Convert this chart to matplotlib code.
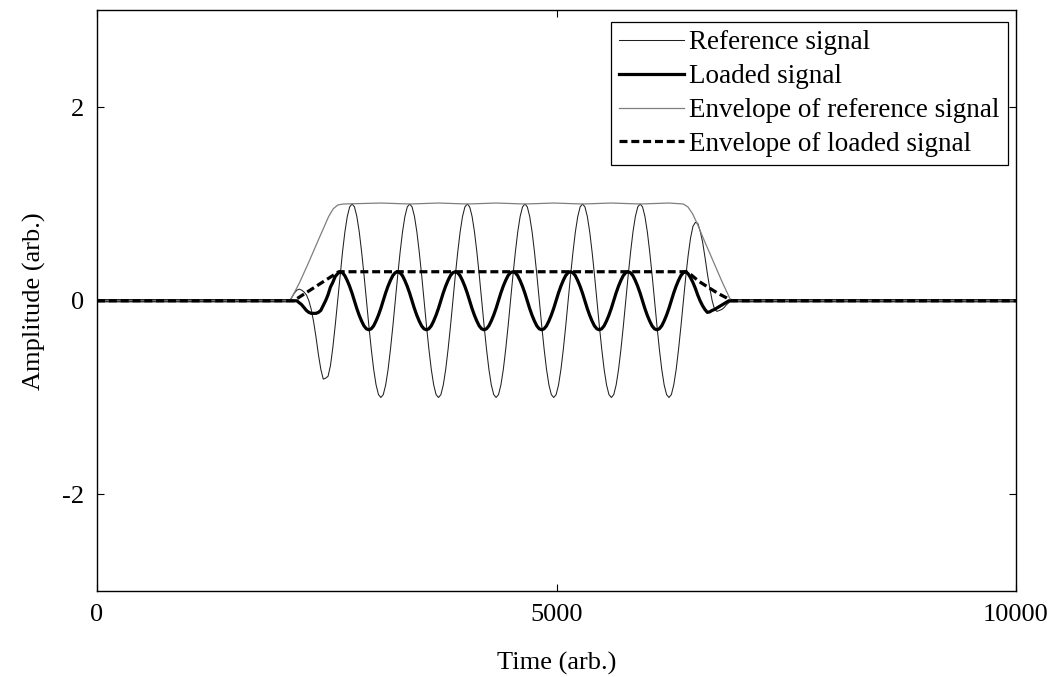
import numpy as np
import matplotlib
matplotlib.use("Agg")
import matplotlib.pyplot as plt

plt.rcParams['font.family'] = ['Liberation Serif', 'DejaVu Serif']
plt.rcParams['axes.unicode_minus'] = False

#sampling of the bursts (arb. time units)
dt = 26.125
ref_t0 = 2096
load_t0 = 2069
t_end = 10000

#reference signal, sampled every dt starting at ref_t0
ref_amp = [0.0, 0.04, 0.08, 0.11, 0.12, 0.11, 0.09, 0.06, 0.0, -0.09, -0.22, -0.38, -0.56,
           -0.71, -0.81, -0.80, -0.78, -0.67, -0.48, -0.25, 0.0, 0.26, 0.5, 0.71, 0.87, 0.97,
           1.0, 0.97, 0.87, 0.71, 0.5, 0.26, 0.0, -0.26, -0.5, -0.71, -0.87, -0.97,
           -1.0, -0.97, -0.87, -0.71, -0.5, -0.26, 0.0, 0.26, 0.5, 0.71, 0.87, 0.97,
           1.0, 0.97, 0.87, 0.71, 0.5, 0.26, 0.0, -0.26, -0.5, -0.71, -0.87, -0.97,
           -1.0, -0.97, -0.87, -0.71, -0.5, -0.26, 0.0, 0.26, 0.5, 0.71, 0.87, 0.97,
           1.0, 0.97, 0.87, 0.71, 0.5, 0.26, 0.0, -0.26, -0.5, -0.71, -0.87, -0.97,
           -1.0, -0.97, -0.87, -0.71, -0.5, -0.26, 0.0, 0.26, 0.5, 0.71, 0.87, 0.97,
           1.0, 0.97, 0.87, 0.71, 0.5, 0.26, 0.0, -0.26, -0.5, -0.71, -0.87, -0.97,
           -1.0, -0.97, -0.87, -0.71, -0.5, -0.26, 0.0, 0.26, 0.5, 0.71, 0.87, 0.97,
           1.0, 0.97, 0.87, 0.71, 0.5, 0.26, 0.0, -0.26, -0.5, -0.71, -0.87, -0.97,
           -1.0, -0.97, -0.87, -0.71, -0.5, -0.26, 0.0, 0.26, 0.5, 0.71, 0.87, 0.97,
           1.0, 0.97, 0.87, 0.71, 0.5, 0.26, 0.0, -0.26, -0.5, -0.71, -0.87, -0.97,
           -1.0, -0.97, -0.87, -0.71, -0.5, -0.26, 0.0, 0.25, 0.47, 0.65, 0.77, 0.81,
           0.80, 0.72, 0.61, 0.45, 0.28, 0.13, 0.0, -0.09, -0.11, -0.10, -0.09, -0.07,
           -0.04, -0.02, 0.0]

#loaded signal, sampled every dt starting at load_t0
load_amp = [0.0, 0.0, 0.0, 0.0, 0.0, -0.02, -0.04, -0.07, -0.10, -0.12, -0.13, -0.13,
            -0.13, -0.12, -0.10, -0.05, 0.0, 0.06, 0.14, 0.19, 0.25, 0.28,
            0.30, 0.29, 0.26, 0.21, 0.15, 0.08, 0.0, -0.08, -0.15, -0.21, -0.26, -0.29,
            -0.30, -0.29, -0.26, -0.21, -0.15, -0.08, 0.0, 0.08, 0.15, 0.21, 0.26, 0.29,
            0.30, 0.29, 0.26, 0.21, 0.15, 0.08, 0.0, -0.08, -0.15, -0.21, -0.26, -0.29,
            -0.30, -0.29, -0.26, -0.21, -0.15, -0.08, 0.0, 0.08, 0.15, 0.21, 0.26, 0.29,
            0.30, 0.29, 0.26, 0.21, 0.15, 0.08, 0.0, -0.08, -0.15, -0.21, -0.26, -0.29,
            -0.30, -0.29, -0.26, -0.21, -0.15, -0.08, 0.0, 0.08, 0.15, 0.21, 0.26, 0.29,
            0.30, 0.29, 0.26, 0.21, 0.15, 0.08, 0.0, -0.08, -0.15, -0.21, -0.26, -0.29,
            -0.30, -0.29, -0.26, -0.21, -0.15, -0.08, 0.0, 0.08, 0.15, 0.21, 0.26, 0.29,
            0.30, 0.29, 0.26, 0.21, 0.15, 0.08, 0.0, -0.08, -0.15, -0.21, -0.26, -0.29,
            -0.30, -0.29, -0.26, -0.21, -0.15, -0.08, 0.0, 0.08, 0.15, 0.21, 0.26, 0.29,
            0.30, 0.29, 0.26, 0.21, 0.15, 0.08, 0.0, -0.08, -0.15, -0.21, -0.26, -0.29,
            -0.30, -0.29, -0.26, -0.21, -0.15, -0.08, 0.0, 0.08, 0.15, 0.21, 0.26, 0.29,
            0.30, 0.28, 0.24, 0.19, 0.13, 0.06, 0.0, -0.05, -0.09, -0.12, -0.115, -0.10,
            -0.09, -0.075, -0.06, -0.045, -0.03, -0.015, 0.0, 0.0, 0.0]

#envelopes
env_ref_t = [0, 2100, 2200, 2300, 2400, 2460, 2520, 2570, 2620, 2680, 3090, 3400, 3716, 4030,
             4343, 4656, 4970, 5283, 5597, 5910, 6224, 6380, 6430, 6480, 6530, 6600, 6700,
             6800, 6888, 6930, 10000]
env_ref = [0.0, 0.0, 0.18, 0.39, 0.61, 0.74, 0.87, 0.95, 0.99, 1.0, 1.01, 1.0, 1.01, 1.0,
           1.01, 1.0, 1.01, 1.0, 1.01, 1.0, 1.01, 1.0, 0.97, 0.9, 0.8, 0.64, 0.42,
           0.2, 0.02, 0.0, 0.0]

env_load_t = [0, 2140, 2630, 6410, 6450, 6550, 6650, 6750, 6850, 6900, 10000]
env_load = [0.0, 0.0, 0.30, 0.30, 0.28, 0.20, 0.14, 0.08, 0.03, 0.0, 0.0]

ref_t = np.concatenate(([0], ref_t0 + dt * np.arange(len(ref_amp)), [t_end]))
ref_y = np.concatenate(([0.0], ref_amp, [0.0]))
load_t = np.concatenate(([0], load_t0 + dt * np.arange(len(load_amp)), [t_end]))
load_y = np.concatenate(([0.0], load_amp, [0.0]))

fig = plt.figure(figsize=(10.56, 6.77), dpi=100)
ax = fig.add_axes([0.0919, 0.127, 0.8702, 0.8575])

ax.plot(ref_t, ref_y, color='#202020', lw=0.75, label='Reference signal')
ax.plot(load_t, load_y, color='black', lw=2.3, label='Loaded signal')
ax.plot(env_ref_t, env_ref, color='#7f7f7f', lw=0.9, label='Envelope of reference signal')
ax.plot(env_load_t, env_load, color='black', lw=2.3, dashes=(2.5, 1.2),
        label='Envelope of loaded signal')

ax.set_xlim(0, 10000)
ax.set_ylim(-3, 3)
ax.set_xticks([0, 5000, 10000])
ax.set_yticks([-2, 0, 2])
ax.tick_params(direction='in', top=True, right=True, length=5, width=0.8,
               labelsize=19, pad=9)
for s in ax.spines.values():
    s.set_linewidth(1.0)

ax.set_xlabel('Time (arb.)', fontsize=19, labelpad=19)
ax.set_ylabel('Amplitude (arb.)', fontsize=19, labelpad=12)

leg = ax.legend(loc='upper right', bbox_to_anchor=(0.9913, 0.9802), borderaxespad=0,
                fontsize=19.5, frameon=True, fancybox=False, edgecolor='black', framealpha=1,
                handlelength=2.4, handletextpad=0.2, labelspacing=0.33, borderpad=0.3)
leg.get_frame().set_linewidth(0.9)

fig.savefig('out.png', dpi=100)
